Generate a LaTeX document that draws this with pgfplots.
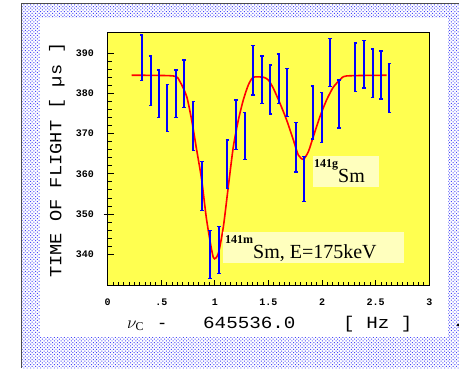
\documentclass[border=0pt]{standalone}
\usepackage{fontspec}
\setmainfont{Liberation Serif}
\setmonofont{Liberation Mono}
\usepackage{graphicx}
\usepackage{pgfplots}
\pgfplotsset{compat=1.18}
\usepackage{pgfplotstable}
\usetikzlibrary{patterns.meta}
\definecolor{ybg}{RGB}{255,255,80}
\definecolor{ybox}{RGB}{255,255,190}
\definecolor{dotc}{RGB}{70,70,250}

\pgfplotstableread{
x y err
0.317 388.87 5.68
0.401 383.19 6.14
0.475 379.88 5.89
0.556 376.39 5.89
0.637 379.88 5.89
0.712 382.45 5.89
0.799 371.87 6.09
0.877 356.99 6.14
0.954 339.91 5.97
1.038 341.07 5.80
1.116 362.42 6.01
1.197 372.25 6.14
1.278 369.47 5.85
1.358 385.76 6.14
1.439 383.40 5.93
1.517 381.00 6.09
1.595 383.69 6.14
1.673 380.25 6.01
1.754 366.65 6.18
1.831 358.69 5.60
1.912 375.27 6.59
1.996 373.99 6.22
2.074 387.67 5.97
2.155 377.39 5.97
2.310 386.51 5.97
2.391 387.26 5.89
2.472 385.06 6.01
2.550 384.60 5.97
2.627 381.41 6.09
}\tofdata

\pgfplotstableread{
x y
0.224 384.52
0.612 384.35
0.674 382.94
0.737 379.21
0.783 373.41
0.830 365.95
0.877 358.48
0.923 348.53
0.985 339.25
1.032 340.24
1.079 346.87
1.125 356.82
1.172 366.77
1.219 373.41
1.265 378.38
1.312 382.11
1.358 384.02
1.452 384.02
1.498 383.36
1.545 381.29
1.607 377.55
1.669 373.41
1.732 368.43
1.778 364.70
1.825 363.62
1.872 365.53
1.918 369.26
1.980 374.24
2.042 378.38
2.104 381.54
2.167 383.36
2.229 384.35
2.602 384.52
}\fitdata

\begin{document}
\begin{tikzpicture}[x=1pt,y=1pt]
\useasboundingbox (0,0) rectangle (459,368);
\fill[white] (0,0) rectangle (459,368);
\fill[pattern={Dots[distance=2.4pt,radius=0.7pt,angle=45]}, pattern color=dotc] (21.7,0) rectangle (459,364.7);
\fill[white] (40,31) rectangle (448,350);
\draw[line width=1.5pt, black!70] (21.7,0) -- (21.7,364.7) -- (459,364.7);
\fill[black] (458,43) circle (1.5pt);

\begin{axis}[
  at={(107.7pt,82.3pt)}, anchor=south west,
  scale only axis, width=321.6pt, height=253.4pt,
  xmin=0, xmax=3, ymin=332.2, ymax=395.2,
  axis background/.style={fill=ybg},
  line width=1.2pt,
  tick align=inside,
  xtick pos=left, ytick pos=left,
  xtick={0,0.5,1,1.5,2,2.5,3},
  xticklabels={0,.5,1,1.5,2,2.5,3},
  ytick={340,350,360,370,380,390},
  minor x tick num=9,
  minor y tick num=4,
  major tick length=6pt,
  minor tick length=4pt,
  every tick/.style={black, line width=1pt},
  extra y ticks={350},
  extra y tick labels={},
  extra y tick style={tick align=center, major tick length=8pt},
  /pgf/number format/assume math mode=true,
  xticklabel style={font=\bfseries\ttfamily\fontsize{10}{10}\selectfont, yshift=-9pt},
  yticklabel style={font=\bfseries\ttfamily\fontsize{10}{10}\selectfont, xshift=-10pt},
  clip=false,
]
\addplot[red, line width=1.6pt, smooth, tension=0.4] table[x=x,y=y] {\fitdata};
\addplot[draw=none, mark=none,
  error bars/.cd, y dir=both, y explicit,
  error bar style={line width=1.9pt, blue, solid},
  error mark options={rotate=90, mark size=1.8pt, line width=1.5pt, blue}]
  table[x=x, y=y, y error=err] {\tofdata};
\end{axis}

% annotation boxes
\fill[ybox] (313,181) rectangle (379,212);
\node[anchor=base west, inner sep=0pt] at (314,186)
  {\raisebox{15pt}{\bfseries\fontsize{12}{12}\selectfont 141g}\fontsize{20}{20}\selectfont Sm};
\fill[ybox] (223,105) rectangle (404,136);
\node[anchor=base west, inner sep=0pt] at (225,110)
  {\raisebox{15pt}{\bfseries\fontsize{12}{12}\selectfont 141m}\fontsize{20}{20}\selectfont Sm, E=175keV};

% y label
\node[rotate=90, inner sep=0pt] at (57,208)
  {\scalebox{1.1}[1]{\ttfamily\fontsize{17}{17}\selectfont TIME OF FLIGHT [ µs ]}};

% x label
\node[anchor=base west, inner sep=0pt] at (127,40) {\fontsize{17}{17}\selectfont$\nu_{\mathrm{C}}$};
\node[anchor=base west, inner sep=0pt] at (157,40) {\ttfamily\fontsize{17}{17}\selectfont -};
\node[anchor=base west, inner sep=0pt] at (203,40) {\scalebox{1.13}[1]{\ttfamily\fontsize{17}{17}\selectfont 645536.0}};
\node[anchor=base west, inner sep=0pt] at (343,40) {\scalebox{1.13}[1]{\ttfamily\fontsize{17}{17}\selectfont [ Hz ]}};
\end{tikzpicture}
\end{document}
